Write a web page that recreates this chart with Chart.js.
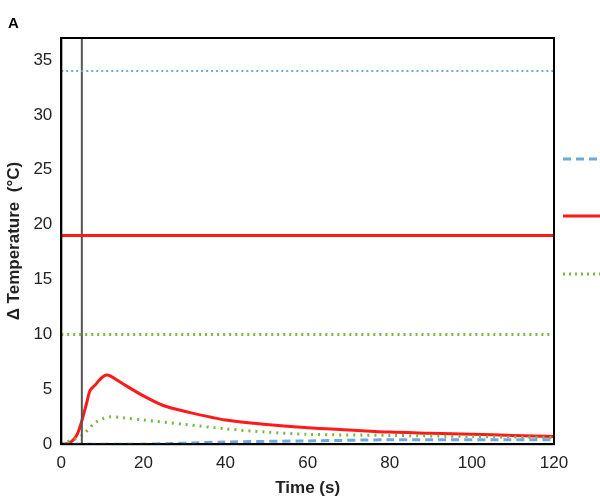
<!DOCTYPE html>
<html><head><meta charset="utf-8">
<script src="https://cdn.jsdelivr.net/npm/chart.js@4"></script>
<style>body{margin:0;background:#fff}#w{position:relative;width:600px;height:503px}</style>
</head><body><div id="w"><canvas id="c" width="600" height="503"></canvas>
<div style="position:absolute;left:8px;top:14px;font:bold 15px 'Liberation Sans'">A</div></div>
<script>
const redT=[0,2,4,6,7,8,10,11,12,15,20,25,30,40,50,60,70,80,90,100,110,120];
const redV=[0,0.1,1,3.5,4.9,5.3,6.1,6.3,6.2,5.5,4.4,3.5,3,2.2,1.8,1.5,1.3,1.1,1.0,0.9,0.8,0.7];
const greenT=[0,5,8,10,12,15,20,30,40,50,60,80,100,120];
const greenV=[0,0.8,1.9,2.3,2.5,2.4,2.2,1.8,1.4,1.1,0.9,0.8,0.7,0.6];
const blueT=[0,20,40,60,80,120];
const blueV=[0,0,0.2,0.3,0.4,0.4];
const blackT=[0,120];
const blackV=[0,0];
const refBlue=34, refRed=19, refGreen=10, markerT=5;
const pts=(t,v)=>t.map((x,i)=>({x,y:v[i]}));
const hline=(v)=>[{x:0,y:v},{x:120,y:v}];
const BLUE='#6fa8dc', RED='#ff1a1a', GREEN='#77b843';
const legendPlugin={id:'lg',afterDraw(ch){const c=ch.ctx;const items=[[BLUE,[8,5],159,3],[RED,[],216,3],[GREEN,[2,4],274,3]];
 items.forEach(([col,d,y,w])=>{c.save();c.strokeStyle=col;c.lineWidth=w;c.setLineDash(d);c.beginPath();c.moveTo(563,y);c.lineTo(600,y);c.stroke();c.restore();});}};
const borderPlugin={id:'bd',afterDraw(ch){const a=ch.chartArea,c=ch.ctx;c.save();c.strokeStyle='#000';c.lineWidth=2;c.strokeRect(a.left,a.top,a.right-a.left,a.bottom-a.top);c.restore();}};
new Chart(document.getElementById('c'),{type:'line',
data:{datasets:[
 {data:hline(refBlue),borderColor:BLUE,borderWidth:2,borderDash:[2,3]},
 {data:hline(refRed),borderColor:RED,borderWidth:3},
 {data:hline(refGreen),borderColor:GREEN,borderWidth:3,borderDash:[2,4]},
 {data:[{x:markerT,y:0},{x:markerT,y:40}],borderColor:'#555',borderWidth:2,tension:0},
 {data:pts(blackT,blackV),borderColor:'#000',borderWidth:2,borderDash:[3,6]},
 {data:pts(blueT,blueV),borderColor:BLUE,borderWidth:3,borderDash:[8,5]},
 {data:pts(greenT,greenV),borderColor:GREEN,borderWidth:3,borderDash:[2,5]},
 {data:pts(redT,redV),borderColor:RED,borderWidth:3}
]},
options:{responsive:false,animation:false,devicePixelRatio:1,
 elements:{point:{radius:0},line:{tension:0.3}},
 layout:{padding:{top:38,right:46,left:0,bottom:0}},
 plugins:{legend:{display:false},tooltip:{enabled:false}},
 scales:{
  x:{type:'linear',min:0,max:120,ticks:{stepSize:20,color:'#222',font:{family:'Liberation Sans',size:17}},
     grid:{display:false,drawTicks:true,tickLength:6,tickColor:'#000'},border:{color:'#000',width:2},
     title:{display:true,text:'Time (s)',color:'#222',font:{family:'Liberation Sans',size:17,weight:'bold'},padding:{top:2}}},
  y:{min:0,max:37,afterBuildTicks:s=>{s.ticks=[0,5,10,15,20,25,30,35].map(v=>({value:v}));},
     ticks:{color:'#222',font:{family:'Liberation Sans',size:17}},
     grid:{display:false,tickLength:6,tickColor:'#000'},border:{color:'#000',width:2},
     title:{display:true,text:'Δ Temperature  (°C)',color:'#222',font:{family:'Liberation Sans',size:17,weight:'bold'},padding:{bottom:6}}}
 }},
plugins:[legendPlugin,borderPlugin]});
</script>
</body></html>
